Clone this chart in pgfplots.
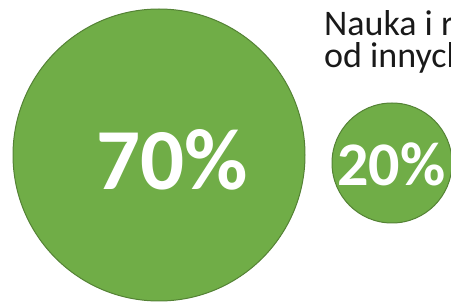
\documentclass[border=0pt]{standalone}
\usepackage{pgfplots}
\pgfplotsset{compat=1.18}
\usepackage{fontspec}
\setmainfont{Carlito}
\definecolor{circgreen}{RGB}{112,173,71}
\definecolor{circedge}{RGB}{84,130,53}
\definecolor{txtgray}{RGB}{25,25,25}
\begin{document}
\begin{tikzpicture}
\path[use as bounding box, clip] (0,0) rectangle (451pt,306pt);
\begin{axis}[at={(0,0)}, anchor=south west, scale only axis,
  width=451pt, height=306pt, xmin=0, xmax=451, ymin=0, ymax=306,
  hide axis, clip=false]
\addplot[only marks, mark=*, mark size=146pt,
  mark options={fill=circgreen, draw=circedge, line width=1pt}]
  coordinates {(159,151)};
\addplot[only marks, mark=*, mark size=60pt,
  mark options={fill=circgreen, draw=circedge, line width=1pt}]
  coordinates {(392,143)};
\addplot[only marks, mark=none, nodes near coords={70\%},
  every node near coord/.append style={anchor=base, text=white, inner sep=0pt,
    font=\fontsize{87}{90}\selectfont\bfseries}]
  coordinates {(172.5,116)};
\addplot[only marks, mark=none, nodes near coords={20\%},
  every node near coord/.append style={anchor=base, text=white, inner sep=0pt,
    font=\fontsize{62}{66}\selectfont\bfseries}]
  coordinates {(391.5,121)};
\node[anchor=base west, inner sep=0pt, text=txtgray, font=\fontsize{36}{38}\selectfont]
  at (axis cs:324,270) {Nauka i rozwój};
\node[anchor=base west, inner sep=0pt, text=txtgray, font=\fontsize{36}{38}\selectfont]
  at (axis cs:324,238) {od innych};
\end{axis}
\end{tikzpicture}
\end{document}
